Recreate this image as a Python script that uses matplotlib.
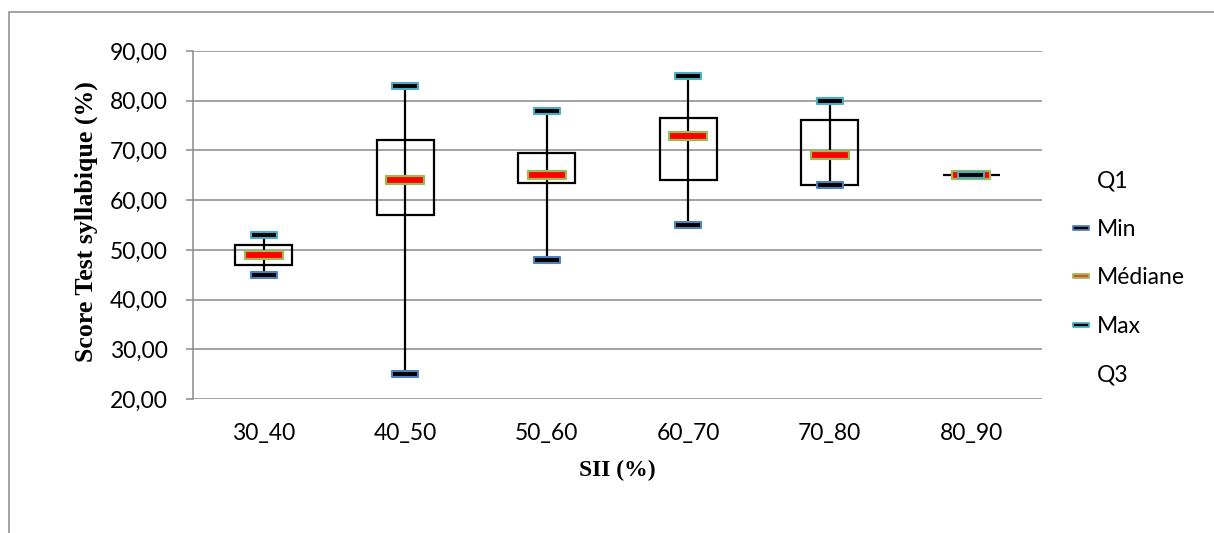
# load necessary modules -----
import numpy as np
from matplotlib import pyplot as plt
from matplotlib.lines import Line2D
from matplotlib.patches import Rectangle
from matplotlib.path import Path

# chart data -----
categories = ["30_40", "40_50", "50_60", "60_70", "70_80", "80_90"]
q1_vals = [47, 57, 63.5, 64, 63, 65]
min_vals = [45, 25, 48, 55, 63, 65]
median_vals = [49, 64, 65, 73, 69, 65]
max_vals = [53, 83, 78, 85, 80, 65]
q3_vals = [51, 72, 69.5, 76.5, 76.2, 65]
y_ticks = [20, 30, 40, 50, 60, 70, 80, 90]
y_tick_labels = [f"{v:.2f}".replace(".", ",") for v in y_ticks]
legend_labels = ["Q1", "Min", "Médiane", "Max", "Q3"]

# colours ----
grid_col = "#8a8a8a"
min_col = "#4f81bd"
med_edge = "#9bbb59"
max_col = "#4bacc6"

sans = "Lato"
serif = "Liberation Serif"

# flat rectangle used as marker for min / median / max ----
dash = Path([(-1, -0.2), (1, -0.2), (1, 0.2), (-1, 0.2), (-1, -0.2)],
            [Path.MOVETO, Path.LINETO, Path.LINETO, Path.LINETO, Path.CLOSEPOLY])

fig = plt.figure(figsize=(12.14, 5.33), dpi=100)
ax = fig.add_axes([0.159, 0.2514, 0.6993, 0.6529])

x = np.arange(len(categories))
q1 = np.array(q1_vals)
q3 = np.array(q3_vals)

# high-low lines and up-down boxes ----
ax.vlines(x, min_vals, max_vals, color="black", lw=1.6, zorder=3)
ax.bar(x, q3 - q1, bottom=q1, width=0.4, fill=False,
       edgecolor="black", linewidth=1.6, zorder=3)

# end markers ----
ax.plot(x, min_vals, ls="none", marker=dash, ms=18.5, mfc="black",
        mec=min_col, mew=1.5, zorder=4)
ax.plot(x, median_vals, ls="none", marker=dash, ms=28, mfc="red",
        mec=med_edge, mew=1.6, zorder=5)
ax.plot(x, max_vals, ls="none", marker=dash, ms=18.5, mfc="black",
        mec=max_col, mew=1.5, zorder=6)

# axes styling ----
ax.set_xlim(-0.5, len(categories) - 0.5)
ax.set_ylim(20, 90)
ax.set_yticks(y_ticks)
ax.set_yticklabels(y_tick_labels, fontfamily=sans, fontsize=16.5)
ax.set_xticks(x)
ax.set_xticklabels(categories, fontfamily=sans, fontsize=16.5)
ax.yaxis.grid(True, color=grid_col, lw=1.1)
ax.set_axisbelow(True)
for side in ["top", "right", "bottom"]:
    ax.spines[side].set_visible(False)
ax.spines["left"].set_color(grid_col)
ax.spines["left"].set_linewidth(1.1)
ax.tick_params(axis="y", direction="out", length=5, width=1.1,
               color=grid_col, pad=13)
ax.tick_params(axis="x", length=0, pad=17)

ax.set_ylabel("Score Test syllabique (%)", fontfamily=serif,
              fontweight="bold", fontsize=18.6)
ax.yaxis.set_label_coords(-0.126, 0.509)
ax.yaxis.label.set_va("center")
ax.set_xlabel("SII (%)", fontfamily=serif, fontweight="bold", fontsize=17)
ax.xaxis.set_label_coords(0.5, -0.204)
ax.xaxis.label.set_va("center")

# legend ----
handles = [
    Line2D([], [], ls="none"),
    Line2D([], [], ls="none", marker=dash, ms=12, mfc="black",
           mec=min_col, mew=1.3),
    Line2D([], [], ls="none", marker=dash, ms=12, mfc="#e0502a",
           mec=med_edge, mew=1.3),
    Line2D([], [], ls="none", marker=dash, ms=12, mfc="black",
           mec=max_col, mew=1.3),
    Line2D([], [], ls="none"),
]
fig.legend(handles, legend_labels, loc="center left",
           bbox_to_anchor=(1061 / 1214, 1 - 278 / 533),
           frameon=False, borderpad=0, handlelength=0.75,
           handletextpad=0.3, labelspacing=1.2, numpoints=1,
           prop={"family": sans, "size": 16.5})

# chart area border ----
fig.patches.append(Rectangle((9 / 1214, -0.1), 1.2, 1 - 12 / 533 + 0.1,
                             transform=fig.transFigure, fill=False,
                             edgecolor=grid_col, linewidth=1.1))

fig.savefig("out.png", dpi=100)
